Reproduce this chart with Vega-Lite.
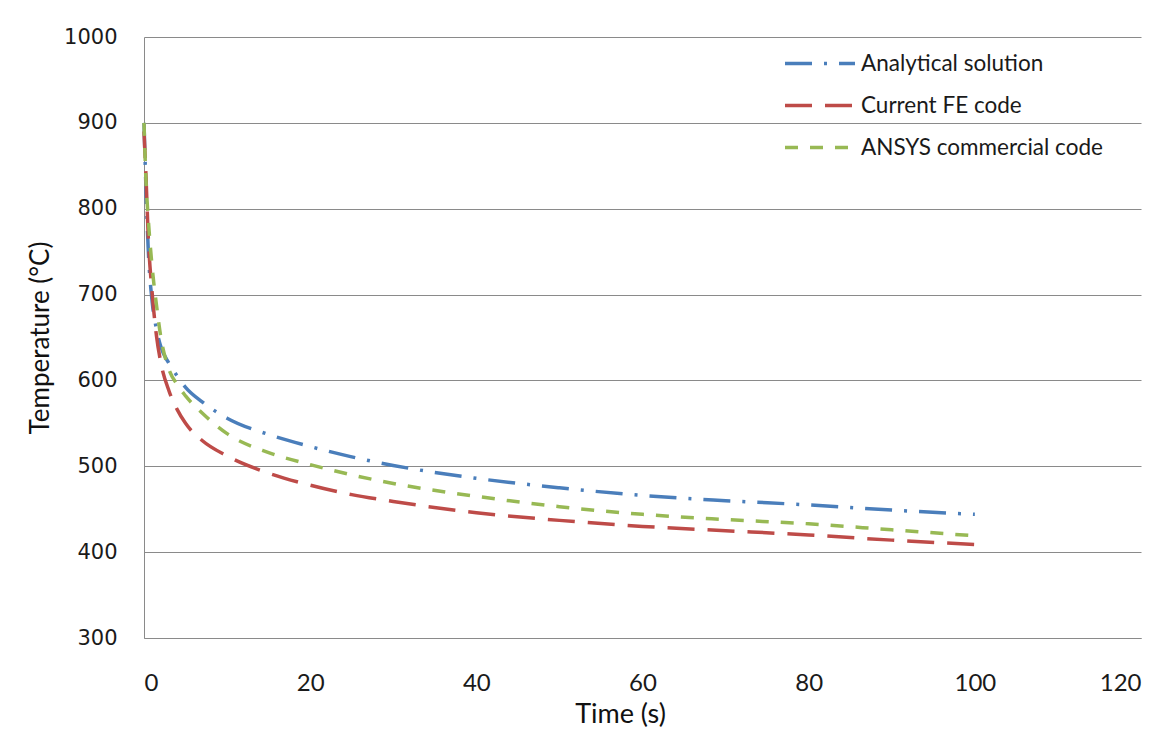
{
  "$schema": "https://vega.github.io/schema/vega-lite/v6.json",
  "width": 997,
  "height": 601,
  "autosize": {"type": "none"},
  "padding": {"left": 144, "top": 37, "right": 13, "bottom": 93},
  "background": "white",
  "config": {
    "view": {"stroke": null},
    "axis": {"gridColor": "#8a8a8a", "gridOpacity": 1, "domainColor": "#8a8a8a", "ticks": false, "labelColor": "#1a1a1a", "titleColor": "#111111", "titleFontWeight": "normal"}
  },
  "data": {
    "values": [
      {"t": 0, "T": 900, "s": "Analytical solution"},
      {"t": 0.25, "T": 820, "s": "Analytical solution"},
      {"t": 0.5, "T": 755, "s": "Analytical solution"},
      {"t": 1, "T": 690, "s": "Analytical solution"},
      {"t": 1.5, "T": 660, "s": "Analytical solution"},
      {"t": 2, "T": 640, "s": "Analytical solution"},
      {"t": 3, "T": 620, "s": "Analytical solution"},
      {"t": 4, "T": 605, "s": "Analytical solution"},
      {"t": 5, "T": 592, "s": "Analytical solution"},
      {"t": 7, "T": 575, "s": "Analytical solution"},
      {"t": 10, "T": 556, "s": "Analytical solution"},
      {"t": 15, "T": 537, "s": "Analytical solution"},
      {"t": 20, "T": 523, "s": "Analytical solution"},
      {"t": 25, "T": 511, "s": "Analytical solution"},
      {"t": 30, "T": 501, "s": "Analytical solution"},
      {"t": 40, "T": 486, "s": "Analytical solution"},
      {"t": 50, "T": 475, "s": "Analytical solution"},
      {"t": 60, "T": 466, "s": "Analytical solution"},
      {"t": 70, "T": 460, "s": "Analytical solution"},
      {"t": 80, "T": 455, "s": "Analytical solution"},
      {"t": 90, "T": 449, "s": "Analytical solution"},
      {"t": 100, "T": 444, "s": "Analytical solution"},
      {"t": 0, "T": 890, "s": "Current FE code"},
      {"t": 0.25, "T": 835, "s": "Current FE code"},
      {"t": 0.5, "T": 770, "s": "Current FE code"},
      {"t": 1, "T": 700, "s": "Current FE code"},
      {"t": 1.5, "T": 652, "s": "Current FE code"},
      {"t": 2, "T": 622, "s": "Current FE code"},
      {"t": 3, "T": 588, "s": "Current FE code"},
      {"t": 4, "T": 566, "s": "Current FE code"},
      {"t": 5, "T": 550, "s": "Current FE code"},
      {"t": 7, "T": 530, "s": "Current FE code"},
      {"t": 10, "T": 512, "s": "Current FE code"},
      {"t": 15, "T": 492, "s": "Current FE code"},
      {"t": 20, "T": 478, "s": "Current FE code"},
      {"t": 25, "T": 467, "s": "Current FE code"},
      {"t": 30, "T": 459, "s": "Current FE code"},
      {"t": 40, "T": 446, "s": "Current FE code"},
      {"t": 50, "T": 437, "s": "Current FE code"},
      {"t": 60, "T": 430, "s": "Current FE code"},
      {"t": 70, "T": 425, "s": "Current FE code"},
      {"t": 80, "T": 420, "s": "Current FE code"},
      {"t": 90, "T": 414, "s": "Current FE code"},
      {"t": 100, "T": 409, "s": "Current FE code"},
      {"t": 0, "T": 900, "s": "ANSYS commercial code"},
      {"t": 0.25, "T": 830, "s": "ANSYS commercial code"},
      {"t": 0.5, "T": 790, "s": "ANSYS commercial code"},
      {"t": 1, "T": 730, "s": "ANSYS commercial code"},
      {"t": 1.5, "T": 688, "s": "ANSYS commercial code"},
      {"t": 2, "T": 652, "s": "ANSYS commercial code"},
      {"t": 3, "T": 613, "s": "ANSYS commercial code"},
      {"t": 4, "T": 595, "s": "ANSYS commercial code"},
      {"t": 5, "T": 582, "s": "ANSYS commercial code"},
      {"t": 7, "T": 562, "s": "ANSYS commercial code"},
      {"t": 10, "T": 538, "s": "ANSYS commercial code"},
      {"t": 15, "T": 516, "s": "ANSYS commercial code"},
      {"t": 20, "T": 502, "s": "ANSYS commercial code"},
      {"t": 25, "T": 490, "s": "ANSYS commercial code"},
      {"t": 30, "T": 480, "s": "ANSYS commercial code"},
      {"t": 40, "T": 465, "s": "ANSYS commercial code"},
      {"t": 50, "T": 453, "s": "ANSYS commercial code"},
      {"t": 60, "T": 444, "s": "ANSYS commercial code"},
      {"t": 70, "T": 438, "s": "ANSYS commercial code"},
      {"t": 80, "T": 433, "s": "ANSYS commercial code"},
      {"t": 90, "T": 426, "s": "ANSYS commercial code"},
      {"t": 100, "T": 419, "s": "ANSYS commercial code"}
    ]
  },
  "mark": {"type": "line", "strokeWidth": 3.5, "interpolate": "monotone", "strokeCap": "butt"},
  "encoding": {
    "x": {
      "field": "t", "type": "quantitative",
      "scale": {"domain": [0, 120], "nice": false},
      "axis": {"values": [0, 20, 40, 60, 80, 100, 120], "format": "d", "grid": false, "title": "Time (s)", "labelFont": "Lato", "labelFontSize": 24, "labelPadding": 33, "titleFont": "Lato", "titleFontSize": 27, "titlePadding": 6, "titleX": 476}
    },
    "y": {
      "field": "T", "type": "quantitative",
      "scale": {"domain": [300, 1000], "nice": false, "zero": false},
      "axis": {"values": [300, 400, 500, 600, 700, 800, 900, 1000], "format": "d", "grid": true, "title": "Temperature (°C)", "labelFont": "DejaVu Sans", "labelFontSize": 21, "labelPadding": 27, "titleFont": "Lato", "titleFontSize": 26, "titlePadding": 10}
    },
    "color": {
      "field": "s", "type": "nominal",
      "scale": {"domain": ["Analytical solution", "Current FE code", "ANSYS commercial code"], "range": ["#4a7ebb", "#be4b48", "#98b954"]},
      "legend": {"title": null, "orient": "none", "legendX": 639, "legendY": 15, "symbolType": "stroke", "symbolSize": 4900, "symbolStrokeWidth": 3.5, "clipHeight": 23, "rowPadding": 19, "labelFont": "Lato", "labelFontSize": 22.5, "labelColor": "#1a1a1a", "labelOffset": 4, "labelLimit": 400}
    },
    "strokeDash": {
      "field": "s", "type": "nominal",
      "scale": {"domain": ["Analytical solution", "Current FE code", "ANSYS commercial code"], "range": [[27, 12, 3, 12], [27, 13], [13, 12]]},
      "legend": {"title": null, "orient": "none", "legendX": 639, "legendY": 15, "symbolType": "stroke", "symbolSize": 4900, "symbolStrokeWidth": 3.5, "clipHeight": 23, "rowPadding": 19, "labelFont": "Lato", "labelFontSize": 22.5, "labelColor": "#1a1a1a", "labelOffset": 4, "labelLimit": 400}
    }
  }
}
